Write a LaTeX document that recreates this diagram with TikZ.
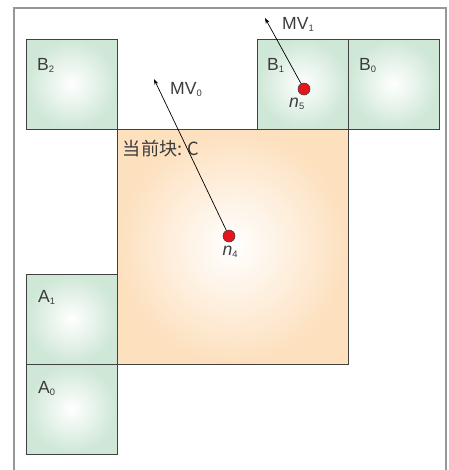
\documentclass[tikz,border=0pt]{standalone}
\usepackage{fontspec}
\setmainfont{Liberation Sans}
\newfontfamily\cjkfont{Noto Sans CJK SC}
\usepackage{xcolor}
\usetikzlibrary{arrows.meta, positioning}

\definecolor{blockgreen}{RGB}{206,231,214}
\definecolor{blockorange}{RGB}{253,224,190}
\definecolor{linegray}{RGB}{65,65,65}
\definecolor{framegray}{RGB}{150,150,150}
\definecolor{textgray}{RGB}{60,60,60}
\definecolor{dotred}{RGB}{232,20,28}

\newcommand{\sub}[1]{\raisebox{-0.25ex}{\fontsize{8}{8}\selectfont #1}}

\begin{document}
\begin{tikzpicture}[
            x=0.03cm, y=-0.03cm,               % coordenadas en pixeles
            node distance=0pt,
            nblock/.style={
                rectangle,
                draw=linegray,
                line width=0.8pt,
                inner sep=0pt,
                outer sep=0pt,
                minimum width=2.73cm,
                minimum height=2.7cm,
                inner color=white,
                outer color=blockgreen
            },
            cblock/.style={
                nblock,
                minimum width=6.93cm,
                minimum height=7.05cm,
                outer color=blockorange
            },
            lbl/.style={
                text=textgray,
                font=\fontsize{15}{17}\selectfont,
                inner sep=0pt,
                anchor=base west
            },
            dot/.style={
                circle,
                draw=linegray,
                fill=dotred,
                line width=0.5pt,
                inner sep=0pt,
                minimum size=0.36cm
            },
            line/.style={
                draw,
                -{Stealth[length=5pt, width=3.5pt]},
                line width=0.6pt
            }
        ]
            \useasboundingbox (0,0) rectangle (449,470);

            % --- MARCO ---
            \draw[framegray, line width=1.4pt] (14,472) -- (14,8) -- (446,8) -- (446,472);

            % --- BLOQUES ---
            \node [nblock] (b2) at (71.5,84) {};
            \node [cblock, below right=of b2] (c) {};
            \node [nblock, anchor=south east] (b1) at (c.north east) {};
            \node [nblock, right=of b1] (b0) {};
            \node [nblock, anchor=south east] (a1) at (c.south west) {};
            \node [nblock, below=of a1] (a0) {};

            % --- ETIQUETAS ---
            \node [lbl] (b2_l) at ([xshift=0.33cm, yshift=-0.93cm]b2.north west) {B\sub{2}};
            \node [lbl] (b1_l) at ([xshift=0.30cm, yshift=-0.93cm]b1.north west) {B\sub{1}};
            \node [lbl] (b0_l) at ([xshift=0.33cm, yshift=-0.93cm]b0.north west) {B\sub{0}};
            \node [lbl] (a1_l) at ([xshift=0.36cm, yshift=-0.85cm]a1.north west) {A\sub{1}};
            \node [lbl] (a0_l) at ([xshift=0.36cm, yshift=-0.87cm]a0.north west) {A\sub{0}};
            \node [lbl, font=\cjkfont\fontsize{15.5}{17}\selectfont] (c_l) at ([xshift=0.17cm, yshift=-0.78cm]c.north west) {当前块: C};

            % --- VECTORES ---
            \node [dot] (n4) at (229,236) {};
            \node [dot] (n5) at (304,89) {};
            \node [lbl] (n4_l) at ([xshift=-0.2cm, yshift=-0.57cm]n4.center) {\textit{n}\sub{4}};
            \node [lbl] (n5_l) at ([xshift=-0.45cm, yshift=-0.54cm]n5.center) {\textit{n}\sub{5}};

            \coordinate (mv0) at (154,79);
            \coordinate (mv1) at (265,18);
            \node [lbl] (mv0_l) at (170,94) {MV\sub{0}};
            \node [lbl] (mv1_l) at (282,29) {MV\sub{1}};

            \path [line] (n4) -- (mv0);
            \path [line] (n5) -- (mv1);
        \end{tikzpicture}
\end{document}
